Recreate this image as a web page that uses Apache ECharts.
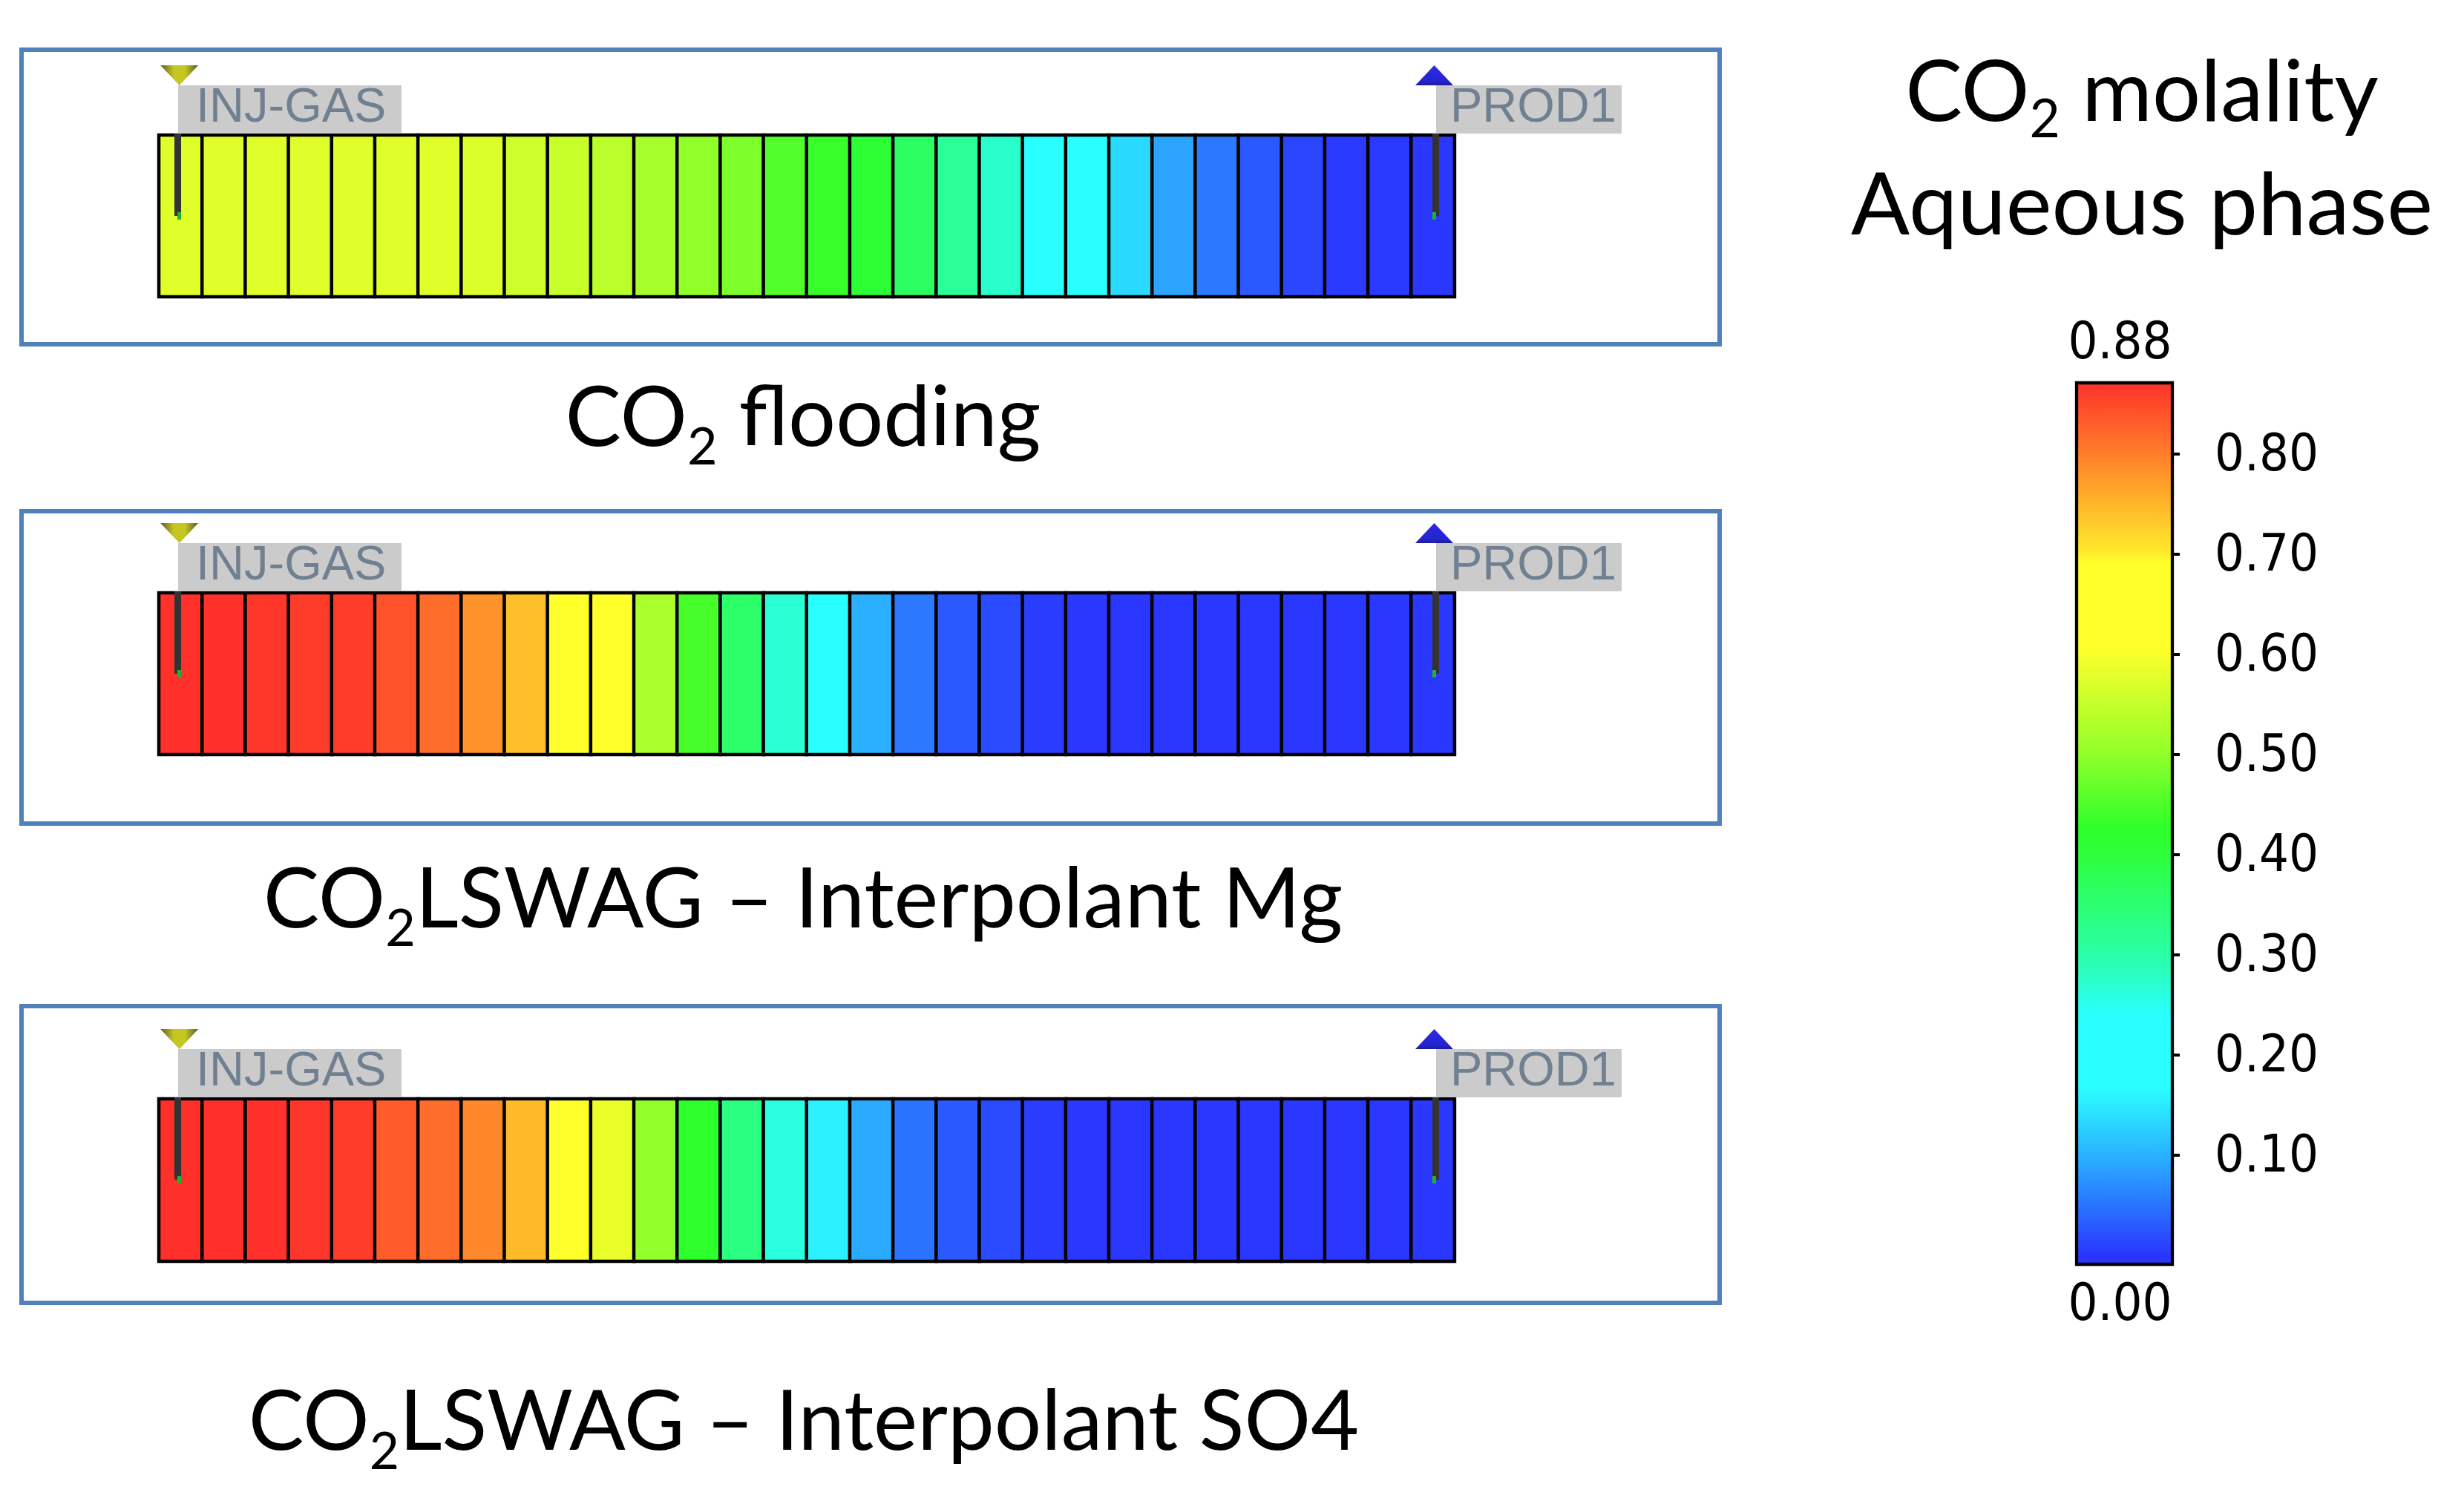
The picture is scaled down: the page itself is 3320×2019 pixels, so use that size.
<!DOCTYPE html>
<html>

<head>
<meta charset="utf-8" />
<title>CO2 molality</title>
<script src="https://cdn.jsdelivr.net/npm/echarts@6/dist/echarts.min.js"></script>
<style>
html, body { margin: 0; padding: 0; background: #fff; }
</style>
</head>

<body>
<div id="main" style="width: 3320px;height:2019px;"></div>
<script type="text/javascript">
var co2Flooding = [0.575, 0.575, 0.575, 0.575, 0.575, 0.575, 0.575, 0.57, 0.557, 0.552, 0.54, 0.52, 0.50, 0.485, 0.455,
  0.435, 0.41, 0.365, 0.315, 0.275, 0.23, 0.20, 0.135, 0.09, 0.055, 0.03, 0.015, 0.005, 0.003, 0.002];
var interpolantMg = [0.87, 0.87, 0.865, 0.86, 0.86, 0.84, 0.815, 0.78, 0.74, 0.68, 0.63, 0.525, 0.445, 0.36, 0.27,
  0.22, 0.10, 0.055, 0.03, 0.018, 0.007, 0.002, 0.002, 0.002, 0.002, 0.002, 0.002, 0.002, 0.002, 0.002];
var interpolantSO4 = [0.875, 0.875, 0.87, 0.865, 0.86, 0.83, 0.815, 0.79, 0.745, 0.67, 0.585, 0.50, 0.425, 0.335, 0.26,
  0.155, 0.095, 0.05, 0.03, 0.018, 0.007, 0.002, 0.002, 0.002, 0.002, 0.002, 0.002, 0.002, 0.002, 0.002];
var caseValues = [co2Flooding, interpolantMg, interpolantSO4];

var wellNames = ['INJ-GAS', 'PROD1'];
var wellCells = [0, 29];

var scaleTicks = [0.10, 0.20, 0.30, 0.40, 0.50, 0.60, 0.70, 0.80];
var scaleEnds = ['0.88', '0.00'];
var scaleMinY = -0.009;
var scaleMaxY = 0.871;

// colour bar stops, value -> colour
var rampValues = [0, 0.10, 0.168, 0.24, 0.30, 0.40, 0.427, 0.50, 0.605, 0.69, 0.70, 0.80, 0.871];
var rampColors = ['#2a35ff', '#2ab0ff', '#2affff', '#2affff', '#2affa8', '#2dff3c', '#2dff2a', '#91ff2a',
  '#ffff2a', '#ffff2a', '#ffeb2a', '#ff7d2a', '#ff302a'];

var cells = [];
for (var c = 0; c < 30; c++) cells.push(c);

// layout in page pixels
var barBoxes = [[180, 402], [797, 1019], [1479, 1702]];
var frameBoxes = [[67, 464], [689, 1110], [1356, 1756]];
var capFont = 'Lato';
var numFont = '"DejaVu Sans Condensed", "DejaVu Sans"';

function rampAt(v) {
  var i = 0;
  if (v >= rampValues[rampValues.length - 1]) return rampColors[rampColors.length - 1];
  while (v > rampValues[i + 1]) i++;
  var t = (v - rampValues[i]) / (rampValues[i + 1] - rampValues[i]);
  return echarts.color.lerp(t, [rampColors[i], rampColors[i + 1]]);
}

var sampled = [];
for (var s = 0; s <= 176; s++) sampled.push(rampAt(s * 0.005));

var myChart = echarts.init(document.getElementById('main'));

var grids = [], xAxes = [], yAxes = [], series = [], graphics = [];

function drawWell(params, api) {
  var sys = params.coordSys;
  var i = params.dataIndex;
  var t = sys.y - 2.3;
  var cx = api.coord([api.value(0), 0])[0];
  var inj = i === 0;
  var apex = cx + (inj ? -1.7 : 1.9);
  var boxL = cx + (inj ? -3.4 : 4.4);
  var boxW = inj ? 301 : 250;
  var pinL = cx + (inj ? -8.4 : -0.6);
  var tipL = cx + (inj ? -4.4 : -0.6);
  var tri = inj
    ? [[apex - 25.5, t - 92], [apex + 25.5, t - 92], [apex, t - 65]]
    : [[apex, t - 92], [apex + 25.5, t - 65], [apex - 25.5, t - 65]];
  var triFill = inj
    ? new echarts.graphic.LinearGradient(0, 0, 1, 0, [
      { offset: 0, color: '#5a5a2a' }, { offset: 0.35, color: '#c6c622' },
      { offset: 0.65, color: '#c6c622' }, { offset: 1, color: '#5a5a2a' }])
    : new echarts.graphic.LinearGradient(0, 0, 0, 1, [
      { offset: 0, color: '#2b2be0' }, { offset: 0.8, color: '#2424d0' }, { offset: 1, color: '#1c1c9a' }]);
  return {
    type: 'group',
    children: [
      { type: 'polygon', shape: { points: tri }, style: { fill: triFill } },
      { type: 'rect', shape: { x: boxL, y: t - 65, width: boxW, height: 65 }, style: { fill: '#cbcbcb' } },
      {
        type: 'text',
        style: {
          x: boxL + (inj ? 24 : 19), y: t - 34,
          text: wellNames[i], fill: '#708090', font: '65px "Liberation Sans"',
          align: 'left', verticalAlign: 'middle'
        }
      },
      { type: 'rect', shape: { x: pinL, y: t, width: 9, height: 111 }, style: { fill: '#333333' } },
      { type: 'rect', shape: { x: tipL, y: t + 106, width: 5, height: 10 }, style: { fill: '#22b030' } }
    ]
  };
}

caseValues.forEach(function (vals, k) {
  var box = barBoxes[k];
  grids.push({ left: 214.3, width: 1745.4, top: box[0] + 2.3, height: box[1] - box[0] - 4.6 });
  xAxes.push({ type: 'category', gridIndex: k, data: cells, show: false });
  yAxes.push({ type: 'category', gridIndex: k, data: ['well'], show: false });
  series.push({
    type: 'heatmap',
    xAxisIndex: k,
    yAxisIndex: k,
    animation: false,
    data: vals.map(function (v, i) { return [i, 0, v]; }),
    itemStyle: { borderColor: '#000', borderWidth: 4.5 }
  });
  series.push({
    type: 'custom',
    xAxisIndex: k,
    yAxisIndex: k,
    clip: false,
    silent: true,
    z: 5,
    data: wellCells.map(function (c, i) { return [c, 0]; }),
    renderItem: drawWell
  });
  var f = frameBoxes[k];
  graphics.push({
    type: 'rect',
    z: -1,
    shape: { x: 29, y: f[0], width: 2288, height: f[1] - f[0] },
    style: { fill: 'none', stroke: '#4f81bd', lineWidth: 6 }
  });
});

// colour bar
grids.push({ left: 2798, width: 129, top: 516, height: 1188 });
xAxes.push({ type: 'category', gridIndex: 3, data: ['scale'], show: false });
yAxes.push({
  type: 'value',
  gridIndex: 3,
  min: scaleMinY,
  max: scaleMaxY,
  position: 'right',
  splitLine: { show: false },
  axisLine: { show: false },
  axisTick: { show: true, length: 10, customValues: scaleTicks, lineStyle: { color: '#000', width: 4 } },
  axisLabel: {
    show: true,
    customValues: scaleTicks,
    margin: 57,
    color: '#000',
    fontSize: 70,
    fontFamily: numFont,
    verticalAlign: 'top',
    lineHeight: 8,
    formatter: function (v) { return v.toFixed(2); }
  }
});
series.push({
  type: 'custom',
  xAxisIndex: 3,
  yAxisIndex: 3,
  silent: true,
  data: [[0, scaleMinY, scaleMaxY]],
  renderItem: function (params, api) {
    var a = api.coord([0, api.value(1)]);
    var b = api.coord([0, api.value(2)]);
    var sys = params.coordSys;
    var stops = rampValues.map(function (v, i) {
      return { offset: (scaleMaxY - v) / (scaleMaxY - scaleMinY), color: rampColors[i] };
    }).reverse();
    return {
      type: 'rect',
      shape: { x: sys.x, y: b[1], width: sys.width, height: a[1] - b[1] },
      style: {
        fill: new echarts.graphic.LinearGradient(0, 0, 0, 1, stops),
        stroke: '#000',
        lineWidth: 4.3
      }
    };
  }
});

function caption(text, x, y, size) {
  graphics.push({
    type: 'text',
    x: x,
    y: y,
    style: {
      text: text,
      align: 'center',
      verticalAlign: 'middle',
      rich: {
        a: { fontFamily: capFont, fontSize: size, lineHeight: 130, verticalAlign: 'top', fill: '#000' },
        s: { fontFamily: capFont, fontSize: size * 0.62, lineHeight: 130, verticalAlign: 'bottom', fill: '#000' }
      }
    }
  });
}

caption('{a|CO}{s|2}{a| flooding}', 1082, 573, 113);
caption('{a|CO}{s|2}{a|LSWAG – Interpolant Mg}', 1082, 1222, 113);
caption('{a|CO}{s|2}{a|LSWAG – Interpolant SO4}', 1083, 1927, 112);
caption('{a|CO}{s|2}{a| molality}', 2886, 133, 115);
caption('{a|Aqueous phase}', 2886, 285, 117);

scaleEnds.forEach(function (t, i) {
  graphics.push({
    type: 'text',
    x: 2856.5,
    y: i === 0 ? 465 : 1761,
    style: { text: t, align: 'center', verticalAlign: 'middle', fill: '#000', font: '70px ' + numFont }
  });
});

var option = {
  animation: false,
  backgroundColor: '#fff',
  grid: grids,
  xAxis: xAxes,
  yAxis: yAxes,
  visualMap: {
    show: false,
    min: 0,
    max: 0.88,
    seriesIndex: [0, 2, 4],
    inRange: { color: sampled }
  },
  series: series,
  graphic: graphics
};

myChart.setOption(option);
</script>
</body>

</html>
